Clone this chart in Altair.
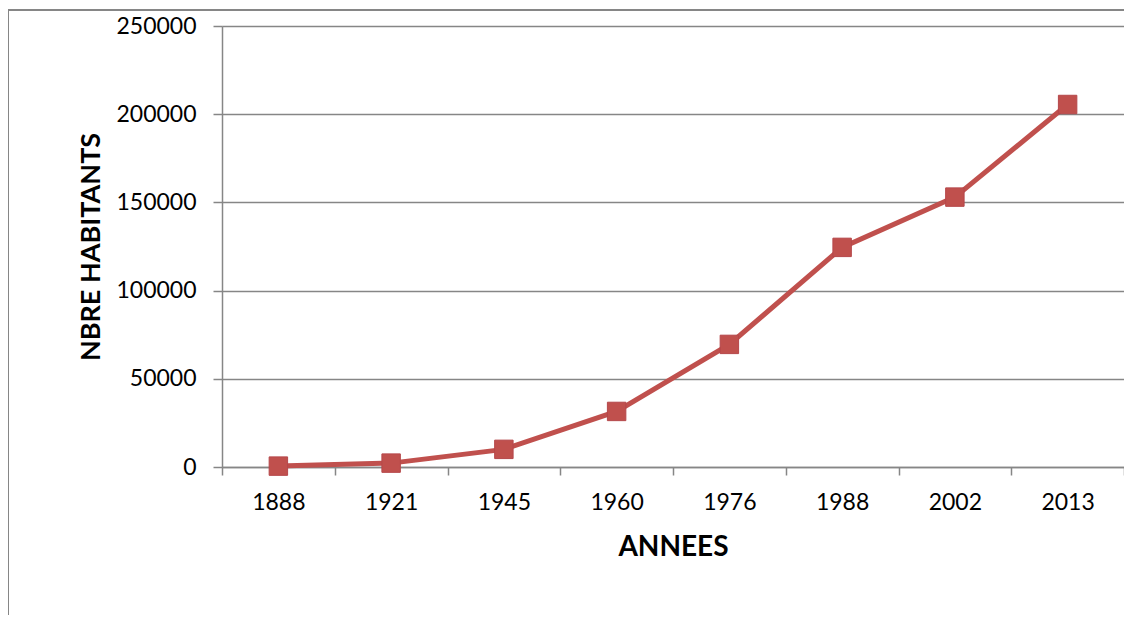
import altair as alt
import pandas as pd

years = ["1888", "1921", "1945", "1960", "1976", "1988", "2002", "2013"]
population = [500, 2200, 10000, 31500, 69500, 124500, 153000, 205500]

df = pd.DataFrame({"year": years, "pop": population})

W, H = 902, 441
LINE = "#C0504D"
GRAY = "#868686"
FONT = "Lato"

x_enc = alt.X(
    "year:N", sort=None,
    scale=alt.Scale(type="band", paddingInner=0, paddingOuter=0),
    axis=alt.Axis(
        title="ANNEES", labelAngle=0, tickBand="extent", grid=False,
        domainColor=GRAY, tickColor=GRAY, tickSize=8, domainWidth=1.5, tickWidth=1.5,
        labelFont=FONT, labelFontSize=23, labelColor="#000000", labelPadding=16,
        titleFont=FONT, titleFontSize=28, titleFontWeight="bold", titleColor="#000000",
        titleY=80, titleBaseline="middle",
    ),
)
y_enc = alt.Y(
    "pop:Q",
    scale=alt.Scale(domain=[0, 250000], nice=False),
    axis=alt.Axis(
        title="NBRE HABITANTS", values=[0, 50000, 100000, 150000, 200000, 250000],
        format="d", grid=True, gridColor=GRAY, gridWidth=1.5,
        domainColor=GRAY, tickColor=GRAY, tickSize=9, domainWidth=1.5, tickWidth=1.5,
        labelFont=FONT, labelFontSize=23, labelColor="#000000", labelPadding=17,
        titleFont=FONT, titleFontSize=27, titleFontWeight="bold", titleColor="#000000",
        titleX=-131, titleY=H / 2, titleAngle=270, titleBaseline="middle", titleAlign="center",
    ),
)

line = alt.Chart(df).mark_line(color=LINE, strokeWidth=5).encode(x=x_enc, y=y_enc)
pts = alt.Chart(df).mark_point(shape="square", filled=True, size=340, color=LINE,
                               stroke="#B5474A", strokeWidth=1, opacity=1).encode(x=x_enc, y=y_enc)

frame_top = alt.Chart(df).mark_rule(color=GRAY, strokeWidth=1.5).encode(
    x=alt.value(-214), x2=alt.value(W + 20), y=alt.value(-16))
frame_left = alt.Chart(df).mark_rule(color=GRAY, strokeWidth=1.5).encode(
    x=alt.value(-214), y=alt.value(-16), y2=alt.value(H + 160))

chart = alt.layer(frame_top, frame_left, line, pts).properties(
    width=W, height=H,
    autosize=alt.AutoSizeParams(type="none"),
    padding={"left": 214, "top": 18, "right": 0, "bottom": 148},
).configure_view(stroke=None).configure(background="white")

chart.save("out.html", embed_options={"renderer": "svg", "actions": False})
